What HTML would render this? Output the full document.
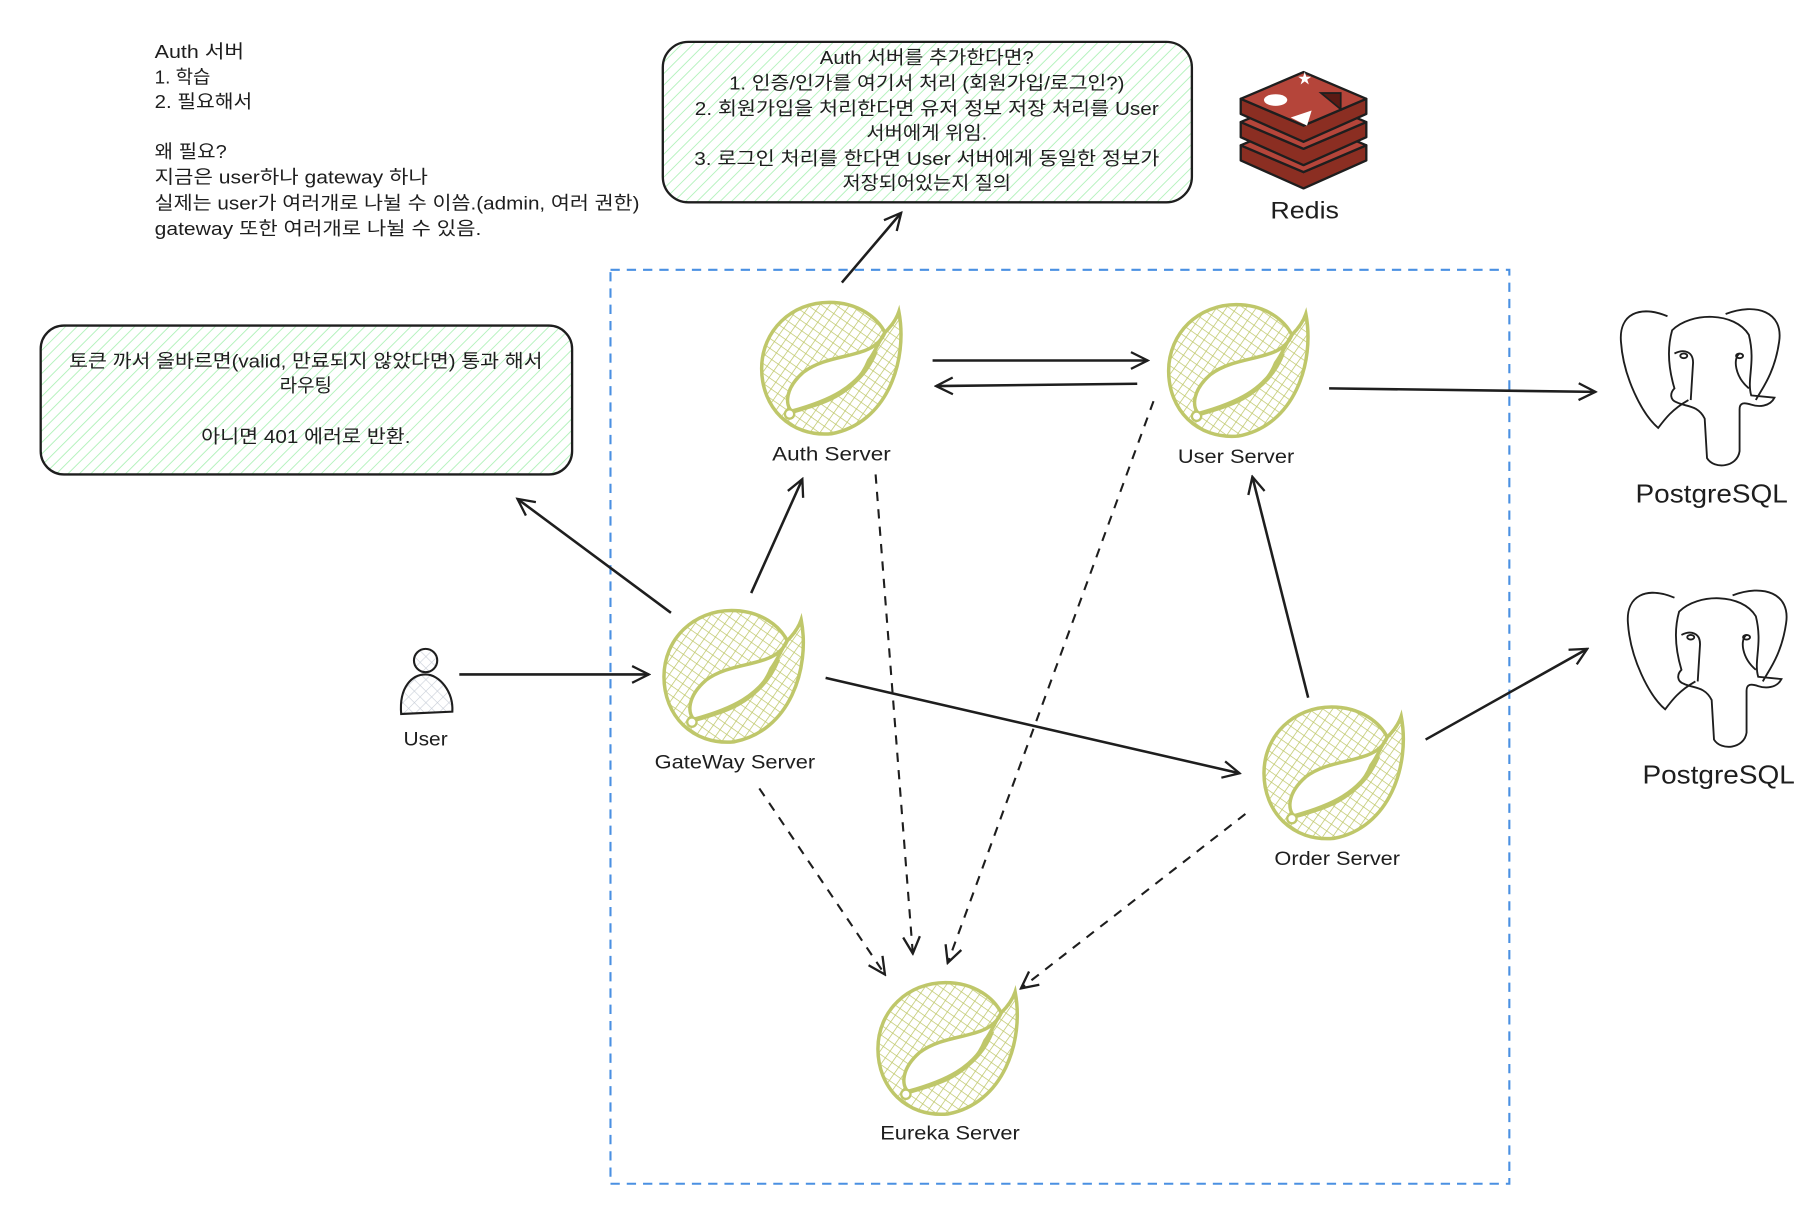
<!DOCTYPE html>
<html><head><meta charset="utf-8"><style>
html,body{margin:0;padding:0;background:#fff;}
svg{display:block;}
text{font-family:"Liberation Sans","Noto Sans CJK KR",sans-serif;fill:#1e1e1e;}
</style></head><body>
<svg width="1814" height="1224" viewBox="0 0 1560 1052.6" xmlns="http://www.w3.org/2000/svg">
<defs>
<pattern id="hatch" width="7" height="7" patternUnits="userSpaceOnUse" patternTransform="rotate(45)">
<line x1="0" y1="0" x2="0" y2="7" stroke="#b2f2bb" stroke-width="1.6"/>
</pattern>
<pattern id="cross" width="7" height="7" patternUnits="userSpaceOnUse" patternTransform="rotate(35)">
<path d="M0 0V7M0 0H7" stroke="#bfc76a" stroke-width="1.3" fill="none"/>
</pattern>
<pattern id="pcross" width="7" height="7" patternUnits="userSpaceOnUse" patternTransform="rotate(45)">
<path d="M0 0V7M0 0H7" stroke="#c8ced8" stroke-width="1" fill="none"/>
</pattern>
<marker id="ah" viewBox="0 0 20 20" refX="18" refY="10" markerWidth="18" markerHeight="18" markerUnits="userSpaceOnUse" orient="auto">
<path d="M2 2 L18 10 L2 18" fill="none" stroke="#1e1e1e" stroke-width="2.2"/>
</marker>
<g id="spring">
<path d="M118 8 C126 50 108 104 60 113 C24 116 0 90 0 57 C0 24 26 0 58 0 C84 0 100 14 106 26 C112 20 116 14 118 8 Z" fill="url(#cross)" stroke="#bfc76a" stroke-width="3"/>
<path d="M106 26 C96 50 60 42 36 60 C20 74 20 88 26 94 C50 88 80 80 92 50 C98 42 100 35 106 26 Z" fill="#fff" stroke="#bfc76a" stroke-width="3"/>
<path d="M26 94 C55 86 85 75 98 42" fill="none" stroke="#bfc76a" stroke-width="4"/>
<circle cx="24" cy="96" r="4" fill="#fff" stroke="#bfc76a" stroke-width="2"/>
</g>
<g id="pg" fill="none" stroke="#1e1e1e" stroke-width="1.6">
<path d="M42 8 C18 -2 0 6 2 30 C4 60 20 92 34 104 C40 96 46 88 60 80"/>
<path d="M92 6 C118 -4 142 4 138 30 C134 58 122 72 118 80"/>
<path d="M46 20 C62 4 100 4 112 24 C118 48 110 62 114 76 L134 78 C130 86 120 86 114 84 C108 82 104 82 104 88 L104 124 C102 138 82 140 76 130 L74 96 C68 84 58 86 50 82 C44 80 44 74 48 70 C42 50 42 34 46 20 Z"/>
<path d="M48 40 C56 36 64 38 64 48 L62 80"/>
<path d="M104 40 C98 44 100 60 112 70"/>
<ellipse cx="56" cy="42" rx="3" ry="2"/><ellipse cx="104" cy="42" rx="3" ry="2"/>
</g>
</defs>

<!-- top-left notes -->
<g font-size="16" lengthAdjust="spacingAndGlyphs">
<text x="133" y="50" textLength="77" lengthAdjust="spacingAndGlyphs">Auth 서버</text>
<text x="133" y="72" textLength="48" lengthAdjust="spacingAndGlyphs">1. 학습</text>
<text x="133" y="93" textLength="84" lengthAdjust="spacingAndGlyphs">2. 필요해서</text>
<text x="133" y="136" textLength="62" lengthAdjust="spacingAndGlyphs">왜 필요?</text>
<text x="133" y="158" textLength="235" lengthAdjust="spacingAndGlyphs">지금은 user하나 gateway 하나</text>
<text x="133" y="180" textLength="417" lengthAdjust="spacingAndGlyphs">실제는 user가 여러개로 나뉠 수 이씀.(admin, 여러 권한)</text>
<text x="133" y="202" textLength="281" lengthAdjust="spacingAndGlyphs">gateway 또한 여러개로 나뉠 수 있음.</text>
</g>

<!-- top green box -->
<rect x="570" y="36" width="455" height="138" rx="22" fill="url(#hatch)" stroke="#1e1e1e" stroke-width="2"/>
<g font-size="16" text-anchor="middle">
<text x="797" y="55" textLength="184" lengthAdjust="spacingAndGlyphs">Auth 서버를 추가한다면?</text>
<text x="797" y="77" textLength="340" lengthAdjust="spacingAndGlyphs">1. 인증/인가를 여기서 처리 (회원가입/로그인?)</text>
<text x="797" y="99" textLength="399" lengthAdjust="spacingAndGlyphs">2. 회원가입을 처리한다면 유저 정보 저장 처리를 User</text>
<text x="797" y="120" textLength="104" lengthAdjust="spacingAndGlyphs">서버에게 위임.</text>
<text x="797" y="142" textLength="400" lengthAdjust="spacingAndGlyphs">3. 로그인 처리를 한다면 User 서버에게 동일한 정보가</text>
<text x="797" y="163" textLength="145" lengthAdjust="spacingAndGlyphs">저장되어있는지 질의</text>
</g>

<!-- left green box -->
<rect x="35" y="280" width="457" height="128" rx="20" fill="url(#hatch)" stroke="#1e1e1e" stroke-width="2"/>
<g font-size="16" text-anchor="middle">
<text x="263" y="316" textLength="407" lengthAdjust="spacingAndGlyphs">토큰 까서 올바르면(valid, 만료되지 않았다면) 통과 해서</text>
<text x="263" y="337" textLength="45" lengthAdjust="spacingAndGlyphs">라우팅</text>
<text x="263" y="381" textLength="180" lengthAdjust="spacingAndGlyphs">아니면 401 에러로 반환.</text>
</g>

<!-- Redis -->
<g stroke="#1e1e1e" stroke-width="2" stroke-linejoin="round">
<path d="M1067 125 L1121 148 L1175 125 L1175 138 L1121 162 L1067 138 Z" fill="#8b2e22"/>
<path d="M1067 125 L1121 102 L1175 125 L1121 148 Z" fill="#b5453a"/>
<path d="M1067 105 L1121 128 L1175 105 L1175 118 L1121 142 L1067 118 Z" fill="#8b2e22"/>
<path d="M1067 105 L1121 82 L1175 105 L1121 128 Z" fill="#b5453a"/>
<path d="M1067 85 L1121 108 L1175 85 L1175 98 L1121 122 L1067 98 Z" fill="#8b2e22"/>
<path d="M1067 85 L1121 62 L1175 85 L1121 108 Z" fill="#b5453a"/>
</g>
<ellipse cx="1097" cy="86" rx="10" ry="5" fill="#fff"/>
<path d="M1110 101 L1128 95 L1124 108 Z" fill="#fff"/>
<path d="M1136 80 L1153 80 L1153 94 Z" fill="#5a1a14" stroke="#1e1e1e" stroke-width="1.5"/>
<text x="1122" y="72" font-size="12" text-anchor="middle" style="fill:#fff">★</text>
<text x="1122" y="188" font-size="21" text-anchor="middle" textLength="59" lengthAdjust="spacingAndGlyphs">Redis</text>

<!-- blue dashed container -->
<rect x="525" y="232" width="773" height="786" fill="none" stroke="#4a90e2" stroke-width="1.8" stroke-dasharray="8 6"/>

<!-- spring icons -->
<use href="#spring" x="655" y="260"/>
<use href="#spring" x="1005" y="262"/>
<use href="#spring" x="571" y="525"/>
<use href="#spring" x="1087" y="608"/>
<use href="#spring" x="755" y="845"/>
<g font-size="17" text-anchor="middle">
<text x="715" y="396" textLength="102" lengthAdjust="spacingAndGlyphs">Auth Server</text>
<text x="1063" y="398" textLength="100" lengthAdjust="spacingAndGlyphs">User Server</text>
<text x="632" y="661" textLength="138" lengthAdjust="spacingAndGlyphs">GateWay Server</text>
<text x="1150" y="744" textLength="108" lengthAdjust="spacingAndGlyphs">Order Server</text>
<text x="817" y="980" textLength="120" lengthAdjust="spacingAndGlyphs">Eureka Server</text>
<text x="366" y="641" textLength="38" lengthAdjust="spacingAndGlyphs">User</text>
</g>

<!-- user person -->
<path d="M345 614 C343 590 355 580 366 580 C378 580 390 595 389 612 Z" fill="url(#pcross)" stroke="#1e1e1e" stroke-width="1.8"/>
<circle cx="366" cy="568" r="10" fill="url(#pcross)" stroke="#1e1e1e" stroke-width="1.8"/>

<!-- postgres -->
<use href="#pg" x="1392" y="264"/>
<use href="#pg" x="1398" y="506"/>
<text x="1472" y="432" font-size="22" text-anchor="middle" textLength="131" lengthAdjust="spacingAndGlyphs">PostgreSQL</text>
<text x="1478" y="674" font-size="22" text-anchor="middle" textLength="131" lengthAdjust="spacingAndGlyphs">PostgreSQL</text>

<!-- solid arrows -->
<g stroke="#1e1e1e" stroke-width="2.2" fill="none" marker-end="url(#ah)">
<line x1="724" y1="243" x2="775" y2="183"/>
<line x1="802" y1="310" x2="987" y2="310"/>
<line x1="978" y1="330" x2="805" y2="332"/>
<line x1="1143" y1="334" x2="1372" y2="337"/>
<line x1="577" y1="527" x2="445" y2="429"/>
<line x1="646" y1="510" x2="690" y2="412"/>
<line x1="395" y1="580" x2="558" y2="580"/>
<line x1="710" y1="583" x2="1066" y2="665"/>
<line x1="1125" y1="600" x2="1077" y2="410"/>
<line x1="1226" y1="636" x2="1365" y2="558"/>
</g>
<!-- dashed arrows -->
<g stroke="#1e1e1e" stroke-width="1.8" fill="none" stroke-dasharray="8 7" marker-end="url(#ah)">
<line x1="653" y1="678" x2="761" y2="838"/>
<line x1="753" y1="408" x2="785" y2="820"/>
<line x1="992" y1="345" x2="815" y2="828"/>
<line x1="1071" y1="700" x2="878" y2="850"/>
</g>
</svg>
</body></html>
